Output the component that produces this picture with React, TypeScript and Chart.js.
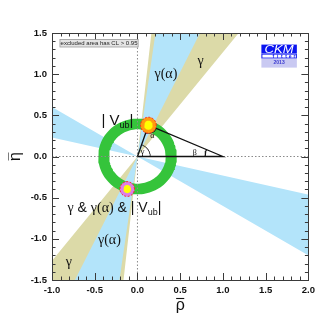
import React, { useEffect, useRef } from 'react';
import { Chart, registerables } from 'chart.js';

Chart.register(...registerables);

// ---------------- data ----------------
const xTickValues = [-1.0, -0.5, 0.0, 0.5, 1.0, 1.5, 2.0];
const yTickValues = [-1.5, -1.0, -0.5, 0.0, 0.5, 1.0, 1.5];
const gammaEdgesDeg = [51.7, 83.8]; // γ constraint (double wedge through origin)
const gammaAlphaEdgesDeg = [64.0, 82.0]; // γ(α) main solution
const gammaAlphaMirrorEdgesDeg = [149.0, 167.0]; // γ(α) second solution
const vubRingRadii = [0.33, 0.46]; // |Vub| ring
const triangleRho = [0, 1, 0.128, 0];
const triangleEta = [0, 0, 0.38, 0];
const apexFitCenter = [0.128, 0.38];
const apexFitRadii95 = [0.092, 0.097];
const apexFitRadii68 = [0.05, 0.055];
const mirrorFitCenter = [-0.12, -0.395];
const mirrorFitRadii95 = [0.085, 0.09];
const mirrorFitRadii68 = [0.045, 0.05];

// ---------------- styles ----------------
const TAN = '#dcdaa8';
const BLUE = '#b3e4fa';
const GREEN = '#35c43b';
const SANS = '"Liberation Sans", Arial, Helvetica, sans-serif';
const SERIF = '"Liberation Serif", "DejaVu Serif", serif';

type P = { x: number; y: number };
const FAR = 8;
const rad = (d: number) => (d * Math.PI) / 180;

function wedge(edges: number[]): P[] {
  const [a1, a2] = edges.map(rad);
  const p = (a: number, s: number) => ({ x: s * FAR * Math.cos(a), y: s * FAR * Math.sin(a) });
  return [{ x: 0, y: 0 }, p(a1, 1), p(a2, 1), { x: 0, y: 0 }, p(a1, -1), p(a2, -1), { x: 0, y: 0 }];
}

function ring(r: number[]): P[] {
  const pts: P[] = [];
  const N = 120;
  for (let i = 0; i <= N; i++) {
    const a = (2 * Math.PI * i) / N;
    pts.push({ x: r[1] * Math.cos(a), y: r[1] * Math.sin(a) });
  }
  for (let i = N; i >= 0; i--) {
    const a = (2 * Math.PI * i) / N;
    pts.push({ x: r[0] * Math.cos(a), y: r[0] * Math.sin(a) });
  }
  return pts;
}

function ellipse(c: number[], r: number[]): P[] {
  const pts: P[] = [];
  const N = 48;
  for (let i = 0; i <= N; i++) {
    const a = (2 * Math.PI * i) / N;
    pts.push({ x: c[0] + r[0] * Math.cos(a), y: c[1] + r[1] * Math.sin(a) });
  }
  return pts;
}

function arc(c: P, r: number, a0: number, a1: number): P[] {
  const pts: P[] = [];
  const N = 30;
  for (let i = 0; i <= N; i++) {
    const a = a0 + ((a1 - a0) * i) / N;
    pts.push({ x: c.x + r * Math.cos(a), y: c.y + r * Math.sin(a) });
  }
  return pts;
}

const tri: P[] = triangleRho.map((x, i) => ({ x, y: triangleEta[i] }));
const apex = tri[2];
const gammaArc = arc(tri[0], 0.15, 0, Math.atan2(apex.y, apex.x));
const alphaArc = arc(apex, 0.1, Math.atan2(-apex.y, -apex.x), Math.atan2(-apex.y, 1 - apex.x));
const betaArc = arc(tri[1], 0.21, Math.atan2(apex.y, apex.x - 1), Math.PI);

const xMin = xTickValues[0];
const xMax = xTickValues[xTickValues.length - 1];
const yMin = yTickValues[0];
const yMax = yTickValues[yTickValues.length - 1];

const base = { showLine: true, pointRadius: 0, pointHoverRadius: 0, borderWidth: 0, borderColor: 'rgba(0,0,0,0)' };
const shape = (data: P[], color: string, order: number, extra: any = {}) => ({
  ...base,
  data,
  backgroundColor: color,
  fill: 'shape',
  order,
  ...extra,
});
const lineDs = (data: P[], color: string, width: number, order: number, dash: number[] = []) => ({
  ...base,
  data,
  borderColor: color,
  borderWidth: width,
  borderDash: dash,
  fill: false,
  order,
});

type Part = { t: string; font: string; dy?: number };
function drawParts(ctx: CanvasRenderingContext2D, parts: Part[], cx: number, baseline: number, color = '#111') {
  let total = 0;
  const widths = parts.map((p) => {
    ctx.font = p.font;
    const w = ctx.measureText(p.t).width;
    total += w;
    return w;
  });
  let x = cx - total / 2;
  ctx.fillStyle = color;
  ctx.textAlign = 'left';
  ctx.textBaseline = 'alphabetic';
  parts.forEach((p, i) => {
    ctx.font = p.font;
    ctx.fillText(p.t, x, baseline + (p.dy || 0));
    x += widths[i];
  });
}

function barredLetter(ctx: CanvasRenderingContext2D, ch: string, cx: number, baseline: number, barY: number) {
  ctx.font = `16px ${SANS}`;
  ctx.fillStyle = '#111';
  ctx.textAlign = 'center';
  ctx.textBaseline = 'alphabetic';
  ctx.fillText(ch, cx, baseline);
  const w = ctx.measureText(ch).width;
  ctx.strokeStyle = '#111';
  ctx.lineWidth = 1.1;
  ctx.beginPath();
  ctx.moveTo(cx - w / 2 + 0.5, barY);
  ctx.lineTo(cx + w / 2 - 0.5, barY);
  ctx.stroke();
}

const framePlugin = {
  id: 'ckmFrame',
  afterDraw(chart: any) {
    const { ctx, chartArea: a } = chart;
    const xs = chart.scales.x;
    const ys = chart.scales.y;
    const px = (v: number) => xs.getPixelForValue(v);
    const py = (v: number) => ys.getPixelForValue(v);
    ctx.save();
    // frame
    ctx.strokeStyle = '#3a3a3a';
    ctx.lineWidth = 1;
    ctx.strokeRect(Math.round(a.left) + 0.5, Math.round(a.top) + 0.5, Math.round(a.right - a.left), Math.round(a.bottom - a.top));
    // ticks
    ctx.beginPath();
    const nx = Math.round((xMax - xMin) / 0.1);
    for (let i = 0; i <= nx; i++) {
      const v = xMin + i * 0.1;
      const major = i % 5 === 0;
      const L = major ? 7 : 3.5;
      const X = Math.round(px(v)) + 0.5;
      ctx.moveTo(X, a.bottom);
      ctx.lineTo(X, a.bottom - L);
      ctx.moveTo(X, a.top);
      ctx.lineTo(X, a.top + L);
    }
    const ny = Math.round((yMax - yMin) / 0.1);
    for (let i = 0; i <= ny; i++) {
      const v = yMin + i * 0.1;
      const major = i % 5 === 0;
      const L = major ? 7 : 3.5;
      const Y = Math.round(py(v)) + 0.5;
      ctx.moveTo(a.left, Y);
      ctx.lineTo(a.left + L, Y);
      ctx.moveTo(a.right, Y);
      ctx.lineTo(a.right - L, Y);
    }
    ctx.stroke();

    // axis titles (ρ̄, η̄)
    barredLetter(ctx, 'ρ', (a.left + a.right) / 2, a.bottom + 30, a.bottom + 18.5);
    ctx.save();
    ctx.translate(12, (a.top + a.bottom) / 2);
    ctx.rotate(-Math.PI / 2);
    barredLetter(ctx, 'η', 0, 0, -12);
    ctx.restore();

    // excluded area box
    {
      const x0 = px(-0.907), x1 = px(0.008), y0 = py(1.42), y1 = py(1.33);
      ctx.fillStyle = '#e4e4e4';
      ctx.fillRect(x0, y0, x1 - x0, y1 - y0);
      ctx.strokeStyle = '#9a9a9a';
      ctx.lineWidth = 0.8;
      ctx.strokeRect(x0, y0, x1 - x0, y1 - y0);
      ctx.fillStyle = '#222';
      ctx.font = `6px ${SANS}`;
      ctx.textAlign = 'center';
      ctx.textBaseline = 'middle';
      ctx.fillText('excluded area has CL > 0.95', (x0 + x1) / 2, (y0 + y1) / 2 + 0.5);
    }

    // logo
    {
      const lx = px(1.45), rx = px(1.865), ty = py(1.359);
      const w = rx - lx;
      ctx.fillStyle = '#0a14f0';
      ctx.fillRect(lx, ty, w, 9);
      ctx.fillStyle = '#ffffff';
      ctx.fillRect(lx, ty + 9, w, 5);
      ctx.strokeStyle = '#0a14f0';
      ctx.lineWidth = 1;
      ctx.strokeRect(lx + 0.5, ty + 9.5, w - 1, 4);
      ctx.fillStyle = '#c9c9f2';
      ctx.fillRect(lx, ty + 14, w, 9);
      ctx.save();
      ctx.fillStyle = '#ffffff';
      ctx.font = `italic 11px ${SANS}`;
      ctx.textAlign = 'center';
      ctx.textBaseline = 'middle';
      const cw = ctx.measureText('CKM').width;
      ctx.translate(lx + w / 2, ty + 5);
      ctx.scale(29 / cw, 1);
      ctx.fillText('CKM', 0, 0);
      ctx.restore();
      ctx.fillStyle = '#0a14f0';
      ctx.font = `bold 5px ${SANS}`;
      ctx.textAlign = 'center';
      ctx.textBaseline = 'middle';
      const letters = 'fitter'.split('');
      letters.forEach((ch, i) => ctx.fillText(ch, lx + 12 + i * 4.2, ty + 11.7));
      ctx.font = `bold 5px ${SANS}`;
      ctx.fillStyle = '#3a3ad0';
      ctx.fillText('2013', lx + w / 2, ty + 18.5);
    }

    // annotations
    const g14 = `14px ${SERIF}`;
    const s14 = `14px ${SANS}`;
    drawParts(ctx, [{ t: 'γ(α)', font: g14 }], px(0.333), py(1.006) + 4);
    drawParts(ctx, [{ t: 'γ', font: g14 }], px(0.738), py(1.152) + 3);
    const vub = (size: number): Part[] => [
      { t: '|', font: `${size}px ${SANS}` },
      { t: ' V', font: `${size}px ${SANS}` },
      { t: 'ub', font: `${Math.round(size * 0.62)}px ${SANS}`, dy: 3 },
      { t: '|', font: `${size}px ${SANS}` },
    ];
    drawParts(ctx, vub(15), px(-0.235), py(0.446) + 5);
    drawParts(
      ctx,
      [
        { t: 'γ', font: g14 },
        { t: ' & ', font: s14 },
        { t: 'γ(α)', font: g14 },
        { t: ' & ', font: s14 },
        ...vub(14),
      ],
      px(-0.27),
      py(-0.612) + 5,
    );
    drawParts(ctx, [{ t: 'γ(α)', font: g14 }], px(-0.328), py(-1.013) + 4);
    drawParts(ctx, [{ t: 'γ', font: g14 }], px(-0.803), py(-1.293) + 3);
    drawParts(ctx, [{ t: 'γ', font: `9px ${SERIF}` }], px(0.058), py(0.049) + 2);
    drawParts(ctx, [{ t: 'α', font: `8px ${SERIF}` }], px(0.174), py(0.252) + 2);
    drawParts(ctx, [{ t: 'β', font: `8px ${SERIF}` }], px(0.672), py(0.054) + 3);
    ctx.restore();
  },
};

const datasets: any[] = [
  shape(wedge(gammaEdgesDeg), TAN, 20),
  shape(wedge(gammaAlphaEdgesDeg), BLUE, 19),
  shape(wedge(gammaAlphaMirrorEdgesDeg), BLUE, 19),
  shape(ring(vubRingRadii), GREEN, 18),
  lineDs([{ x: 0, y: yMin }, { x: 0, y: yMax }], '#8a8a8a', 1, 17, [1.5, 2]),
  lineDs([{ x: xMin, y: 0 }, { x: xMax, y: 0 }], '#8a8a8a', 1, 17, [1.5, 2]),
  lineDs(tri, '#111111', 1.3, 10),
  lineDs(gammaArc, '#111111', 0.8, 10),
  lineDs(alphaArc, '#111111', 0.8, 10),
  lineDs(betaArc, '#111111', 0.8, 10),
  shape(ellipse(apexFitCenter, apexFitRadii95), '#ff9a10', 6, { borderColor: '#ff2020', borderWidth: 1, borderDash: [2, 1.5] }),
  shape(ellipse(apexFitCenter, apexFitRadii68), '#ffff00', 5),
  shape(ellipse(mirrorFitCenter, mirrorFitRadii95), '#dd7fe6', 6, { borderColor: '#ff2020', borderWidth: 1, borderDash: [2, 1.5] }),
  shape(ellipse(mirrorFitCenter, mirrorFitRadii68), '#ffff00', 5),
];

const tickFont = { family: SANS, size: 9.5, weight: 'bold' as const };

export default function App() {
  const ref = useRef<HTMLCanvasElement>(null);
  useEffect(() => {
    const chart = new Chart(ref.current as HTMLCanvasElement, {
      type: 'scatter',
      data: { datasets },
      options: {
        animation: false,
        responsive: false,
        devicePixelRatio: 1,
        events: [],
        layout: { padding: { left: 0, top: 25, right: 9, bottom: 0 } },
        plugins: { legend: { display: false }, tooltip: { enabled: false } },
        scales: {
          x: {
            type: 'linear',
            min: xMin,
            max: xMax,
            afterFit: (s: any) => {
              s.height = 39;
            },
            afterBuildTicks: (s: any) => {
              s.ticks = xTickValues.map((value) => ({ value }));
            },
            grid: { display: false, drawTicks: false },
            border: { display: false },
            ticks: {
              padding: 5,
              color: '#111',
              font: tickFont,
              maxRotation: 0,
              autoSkip: false,
              callback: (v: any) => Number(v).toFixed(1),
            },
          },
          y: {
            type: 'linear',
            min: yMin,
            max: yMax,
            afterFit: (s: any) => {
              s.width = 44;
            },
            afterBuildTicks: (s: any) => {
              s.ticks = yTickValues.map((value) => ({ value }));
            },
            grid: { display: false, drawTicks: false },
            border: { display: false },
            ticks: {
              padding: 5,
              color: '#111',
              font: tickFont,
              autoSkip: false,
              callback: (v: any) => Number(v).toFixed(1),
            },
          },
        },
      },
      plugins: [framePlugin],
    });
    return () => chart.destroy();
  }, []);
  return (
    <div style={{ width: 312, height: 311 }}>
      <canvas ref={ref} width={312} height={311} style={{ display: 'block', width: 312, height: 311 }} />
    </div>
  );
}
